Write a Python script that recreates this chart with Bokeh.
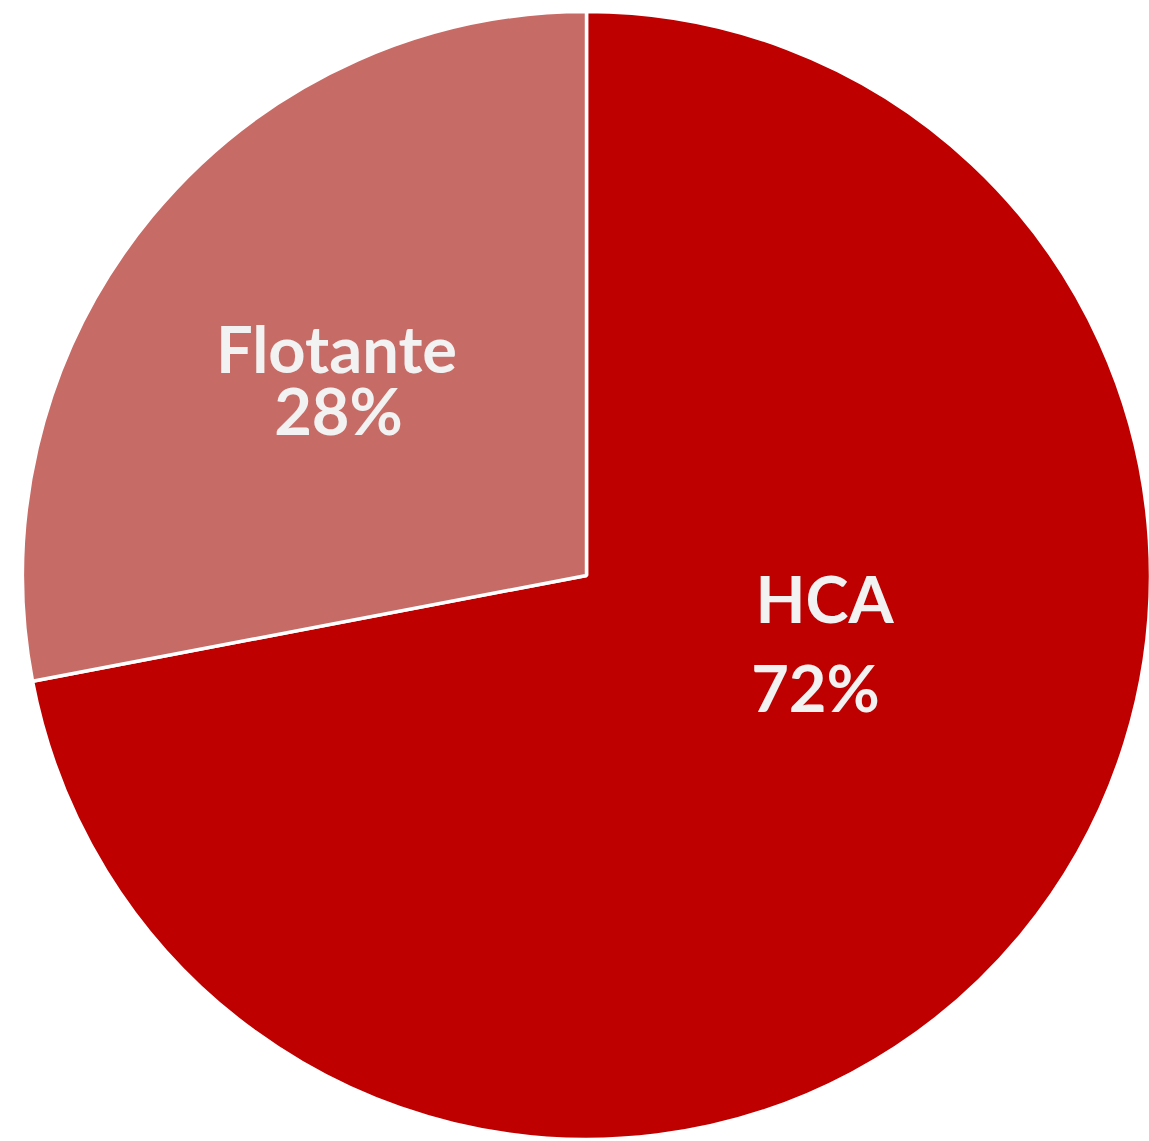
import math
from bokeh.plotting import figure
from bokeh.models import ColumnDataSource
from bokeh.core.properties import value
from bokeh.embed import file_html
from bokeh.resources import INLINE

# Data
categories = ["HCA", "Flotante"]
shares = [72, 28]
colors = ["#bf0000", "#c76b66"]
pct_labels = ["72%", "28%"]

W, H = 1149, 1141
cx, cy, r = 586, H - 575, 564

# angles: start at 12 o'clock, HCA clockwise, Flotante after it
total = sum(shares)
top = math.pi / 2
hca_sweep = 2 * math.pi * shares[0] / total
starts = [top - hca_sweep, top]
ends = [top, top + 2 * math.pi * shares[1] / total]

src = ColumnDataSource(dict(start=starts, end=ends, color=colors, cat=categories))

p = figure(width=W, height=H, x_range=(0, W), y_range=(0, H),
           output_backend="svg", toolbar_location=None, min_border=0,
           background_fill_color="white", border_fill_color="white")
p.axis.visible = False
p.grid.visible = False
p.outline_line_color = None

p.wedge(x=cx, y=cy, radius=r, start_angle="start", end_angle="end",
        fill_color="color", line_color="white", line_width=3.5, source=src)

# labels (layout positions)
name_pos = {"HCA": (824, H - 597), "Flotante": (336, H - 347)}
pct_pos = {"HCA": (815, H - 686), "Flotante": (338, H - 409)}

lx, ly, lt = [], [], []
for c, pl in zip(categories, pct_labels):
    lx += [name_pos[c][0], pct_pos[c][0]]
    ly += [name_pos[c][1], pct_pos[c][1]]
    lt += [c, pl]

p.text(x=lx, y=ly, text=lt, text_font=value("Lato"), text_font_style="bold",
       text_font_size="65px", text_color="#f2f2f2", text_align="center",
       text_baseline="alphabetic")

open("out.html", "w").write(file_html(p, INLINE))
